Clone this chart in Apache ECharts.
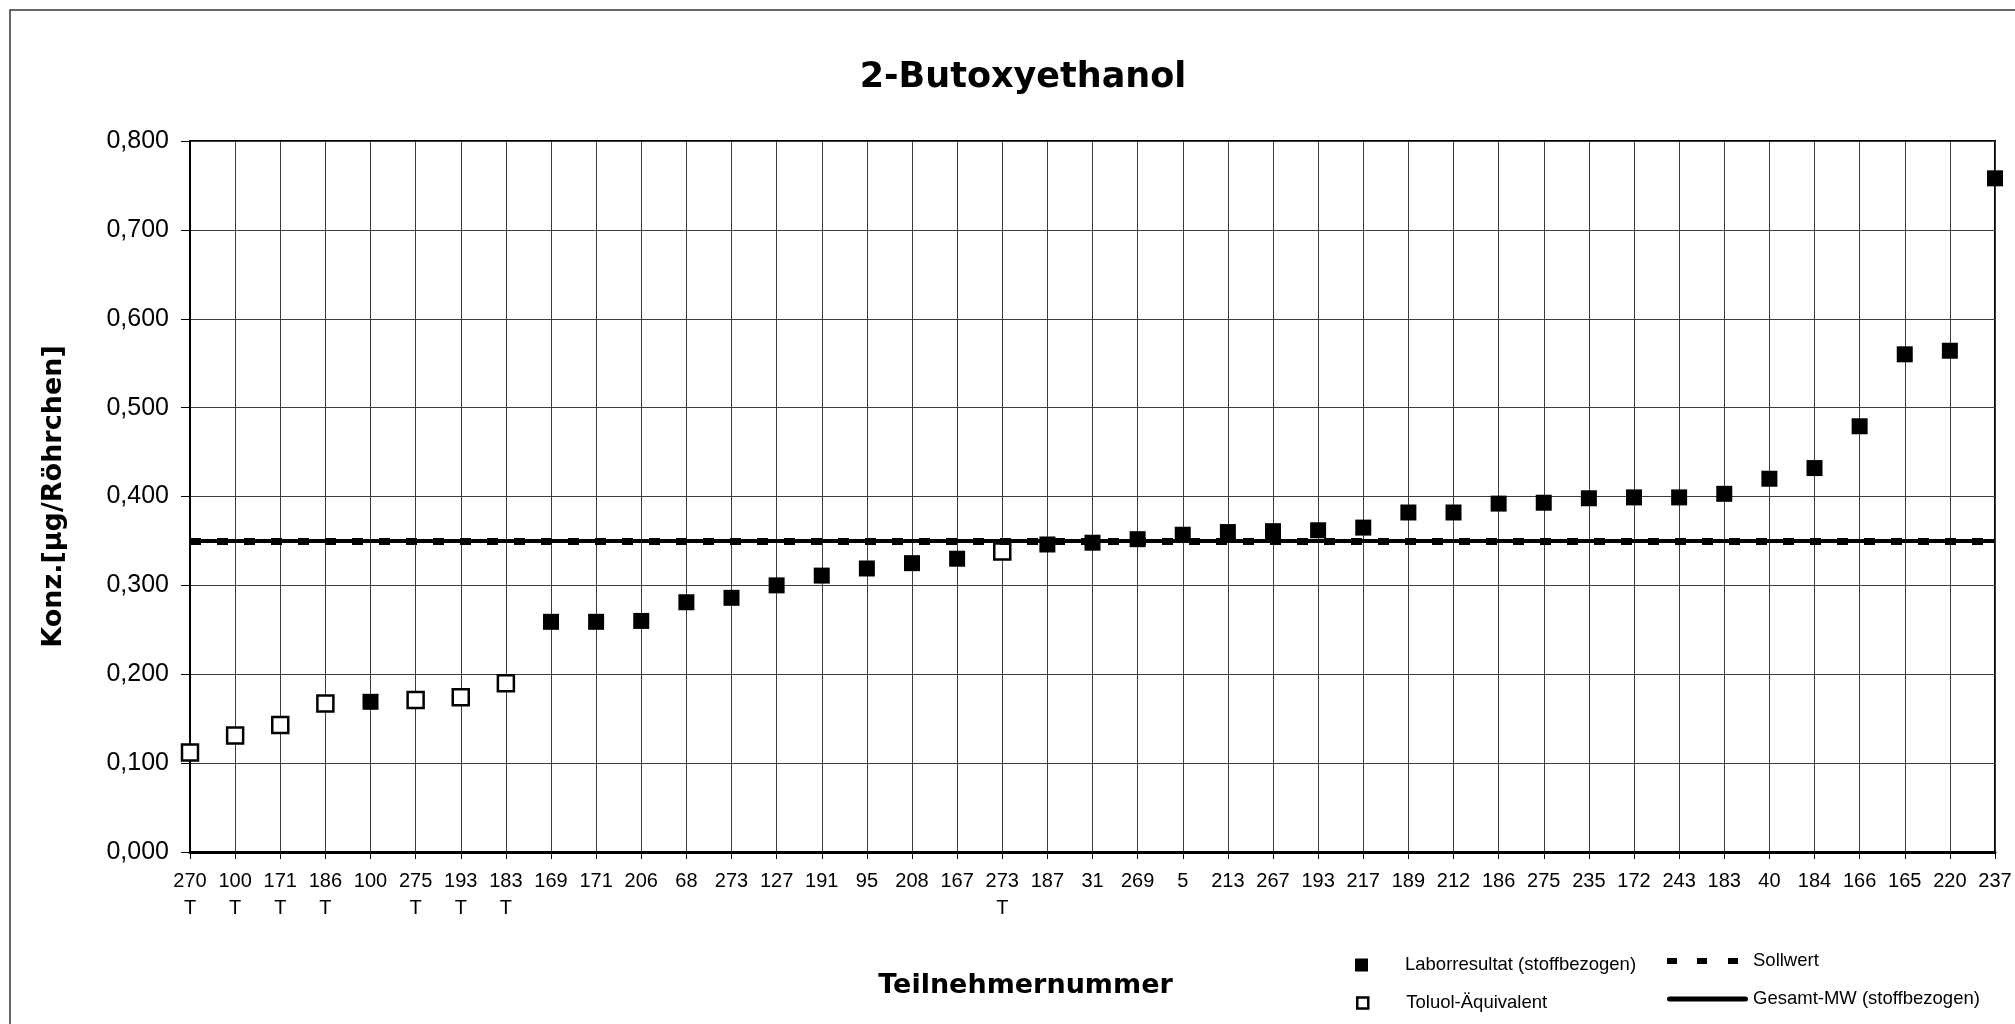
<!DOCTYPE html>
<html>
<head>
<meta charset="utf-8">
<script src="https://cdn.jsdelivr.net/npm/echarts@6/dist/echarts.min.js"></script>
<style>
html,body{margin:0;padding:0;background:#ffffff;}
#c{width:2015px;height:1024px;}
</style>
</head>
<body>
<div id="c"></div>
<script>
const chartTitle = '2-Butoxyethanol';
const xAxisTitle = 'Teilnehmernummer';
const yAxisTitle = 'Konz.[µg/Röhrchen]';

const participants = ['270','100','171','186','100','275','193','183','169','171','206','68','273','127','191','95','208','167','273','187','31','269','5','213','267','193','217','189','212','186','275','235','172','243','183','40','184','166','165','220','237'];
const toluolFlags  = ['T','T','T','T','','T','T','T','','','','','','','','','','','T','','','','','','','','','','','','','','','','','','','','','',''];

const laborValues  = [null,null,null,null,0.169,null,null,null,0.259,0.259,0.260,0.281,0.286,0.300,0.311,0.319,0.325,0.330,null,0.346,0.348,0.352,0.357,0.360,0.361,0.362,0.365,0.382,0.382,0.392,0.393,0.398,0.399,0.399,0.403,0.420,0.432,0.479,0.560,0.564,0.758];
const toluolValues = [0.112,0.131,0.143,0.167,null,0.171,0.174,0.190,null,null,null,null,null,null,null,null,null,null,0.338,null,null,null,null,null,null,null,null,null,null,null,null,null,null,null,null,null,null,null,null,null,null];

const sollwert = 0.350;
const gesamtMW = 0.354;

const yMin = 0, yMax = 0.8, yStep = 0.1;
const seriesNames = ['Laborresultat (stoffbezogen)', 'Toluol-Äquivalent', 'Sollwert', 'Gesamt-MW (stoffbezogen)'];

const categories = participants.map((p, i) => toluolFlags[i] ? p + '\n' + toluolFlags[i] : p);

const chart = echarts.init(document.getElementById('c'), null, {renderer: 'canvas'});

const legendText = {fontFamily: '"Liberation Sans", Arial, sans-serif', fontSize: 18.5, color: '#000', lineHeight: 20};

const option = {
  animation: false,
  backgroundColor: '#ffffff',
  title: {
    text: chartTitle,
    left: 1018,
    top: 55,
    textAlign: 'center',
    textStyle: {fontFamily: '"DejaVu Sans", sans-serif', fontWeight: 'bold', fontSize: 35, color: '#000'}
  },
  graphic: [{
    type: 'rect', silent: true, z: -1,
    shape: {x: 10, y: 10, width: 2100, height: 1100},
    style: {fill: 'none', stroke: '#333', lineWidth: 1.5}
  }],
  grid: {
    left: 190, right: 20, top: 141, bottom: 172,
    show: true, borderColor: '#000', borderWidth: 2, backgroundColor: 'transparent'
  },
  legend: [
    {
      data: [seriesNames[0]], left: 1355, top: 955, padding: 0, selectedMode: false,
      icon: 'rect', itemWidth: 13, itemHeight: 13,
      itemStyle: {color: '#000', borderWidth: 0, opacity: 1},
      textStyle: Object.assign({padding: [0, 0, 0, 32]}, legendText)
    },
    {
      data: [seriesNames[1]], left: 1356, top: 993, padding: 0, selectedMode: false,
      icon: 'rect', itemWidth: 11, itemHeight: 11,
      itemStyle: {color: '#fff', borderColor: '#000', borderWidth: 2.5, opacity: 1},
      textStyle: Object.assign({padding: [0, 0, 0, 33]}, legendText)
    },
    {
      data: [seriesNames[2]], left: 1667, top: 951, padding: 0, selectedMode: false,
      icon: 'path://M0,0h10v6h-10zM30,0h10v6h-10zM61,0h10v6h-10z', itemWidth: 71, itemHeight: 6,
      itemStyle: {color: '#000', borderWidth: 0},
      textStyle: Object.assign({padding: [0, 0, 0, 10]}, legendText)
    },
    {
      data: [seriesNames[3]], left: 1667, top: 989, padding: 0, selectedMode: false,
      icon: 'path://M2.5,0H78.5A2.5,2.5,0,0,1,78.5,5H2.5A2.5,2.5,0,0,1,2.5,0Z', itemWidth: 81, itemHeight: 5,
      itemStyle: {color: '#000', borderWidth: 0},
      textStyle: Object.assign({padding: [0, 0, 0, 0]}, legendText)
    }
  ],
  xAxis: {
    type: 'category',
    data: categories,
    boundaryGap: false,
    name: xAxisTitle,
    nameLocation: 'middle',
    nameGap: 118,
    nameTextStyle: {fontFamily: '"DejaVu Sans", sans-serif', fontWeight: 'bold', fontSize: 27, color: '#000', lineHeight: 32, padding: [0, 134, 0, 0]},
    axisLine: {show: true, onZero: false, lineStyle: {color: '#000', width: 3}},
    axisTick: {show: true, inside: false, length: 7, interval: 0, lineStyle: {color: '#000', width: 1}},
    axisLabel: {show: true, interval: 0, margin: 16, fontFamily: '"Liberation Sans", Arial, sans-serif', fontSize: 20, lineHeight: 27, color: '#000'},
    splitLine: {show: true, interval: 0, lineStyle: {color: '#3c3c3c', width: 1}}
  },
  yAxis: {
    type: 'value',
    min: yMin, max: yMax, interval: yStep,
    name: yAxisTitle,
    nameLocation: 'middle',
    nameRotate: 90,
    nameGap: 120,
    nameTextStyle: {fontFamily: '"DejaVu Sans", sans-serif', fontWeight: 'bold', fontSize: 27, color: '#000', lineHeight: 32, padding: [0, 0, 0, 0]},
    axisLine: {show: true, lineStyle: {color: '#000', width: 2}},
    axisTick: {show: true, inside: false, length: 9, lineStyle: {color: '#000', width: 1}},
    axisLabel: {
      show: true, margin: 21, fontFamily: '"Liberation Sans", Arial, sans-serif', fontSize: 25, color: '#000',
      formatter: v => v.toFixed(3).replace('.', ',')
    },
    splitLine: {show: true, lineStyle: {color: '#3c3c3c', width: 1}}
  },
  series: [
    {
      name: seriesNames[0], type: 'scatter', data: laborValues, z: 4,
      symbol: 'rect', symbolSize: 16,
      itemStyle: {color: '#000', borderWidth: 0, opacity: 1},
      emphasis: {disabled: true}, silent: true
    },
    {
      name: seriesNames[1], type: 'scatter', data: toluolValues, z: 4,
      symbol: 'rect', symbolSize: 16,
      itemStyle: {color: '#fff', borderColor: '#000', borderWidth: 2.5, opacity: 1},
      emphasis: {disabled: true}, silent: true
    },
    {
      name: seriesNames[2], type: 'line', data: [], z: 2, color: '#000',
      markLine: {
        silent: true, symbol: ['none', 'none'], label: {show: false},
        lineStyle: {color: '#000', width: 7, type: [11, 16], opacity: 1},
        emphasis: {disabled: true},
        data: [{yAxis: sollwert}]
      }
    },
    {
      name: seriesNames[3], type: 'line', data: [], z: 3, color: '#000',
      markLine: {
        silent: true, symbol: ['none', 'none'], label: {show: false},
        lineStyle: {color: '#000', width: 4, type: 'solid', opacity: 1},
        emphasis: {disabled: true},
        data: [{yAxis: gesamtMW}]
      }
    }
  ]
};

chart.setOption(option);
</script>
</body>
</html>
